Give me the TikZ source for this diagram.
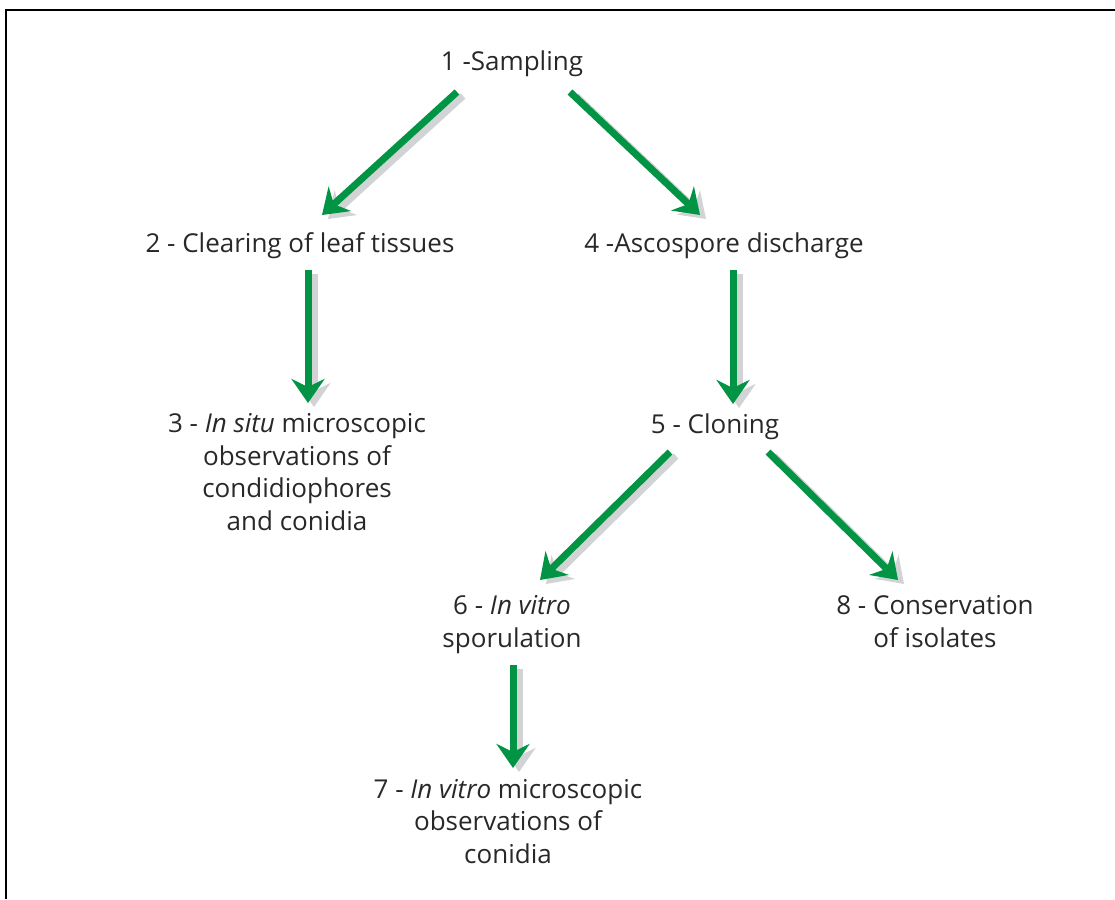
\documentclass[tikz,border=0pt]{standalone}
\usepackage{fontspec}
\setmainfont{Open Sans}
\usetikzlibrary{arrows.meta,calc}
\definecolor{arrgreen}{RGB}{0,148,68}
\definecolor{shadowgray}{RGB}{209,211,212}
\definecolor{txtgray}{RGB}{40,40,40}
\tikzset{
  lbl/.style={anchor=base,inner sep=0pt,align=center,font=\fontsize{26}{32.5}\selectfont,text=txtgray},
  arrbase/.style={line width=7pt,-{Stealth[length=24pt,width=33pt,inset=8pt]}},
  arr/.style={arrbase,draw=arrgreen,fill=arrgreen},
  arrshadow/.style={arrbase,draw=shadowgray,fill=shadowgray,transform canvas={shift={(6pt,-4pt)}}},
}
\newcommand{\flowarrow}[2]{%
  \draw[arrshadow] #1 -- #2;
  \draw[arr] #1 -- #2;}
\begin{document}
\begin{tikzpicture}[x=1pt,y=-1pt]
\useasboundingbox (0,0) rectangle (1115,899);
\draw[line width=2pt,black] (6,899) -- (6,10) -- (1115,10);

% multi-line nodes: base anchor = baseline of last line
\node[lbl] (n1) at (512,70.5) {1 -Sampling};
\node[lbl] (n2) at (300,252) {2 - Clearing of leaf tissues};
\node[lbl] (n4) at (724,252) {4 -Ascospore discharge};
\node[lbl] (n3) at (297,530) {3 - \textit{In situ} microscopic\\observations of\\condidiophores\\and conidia};
\node[lbl] (n5) at (715,433) {5 - Cloning};
\node[lbl] (n6) at (512,647) {6 - \textit{In vitro}\\sporulation};
\node[lbl] (n8) at (935,647) {8 - Conservation\\of isolates};
\node[lbl] (n7) at (508,863) {7 - \textit{In vitro} microscopic\\observations of\\conidia};

\flowarrow{($(n1.base)+(-55,21.5)$)}{($(n2.base)+(22,-37)$)}
\flowarrow{($(n1.base)+(58,21.5)$)}{($(n4.base)+(-24,-37)$)}
\flowarrow{($(n2.base)+(8,18)$)}{($(n3.base)+(11,-127)$)}
\flowarrow{($(n4.base)+(9,18)$)}{($(n5.base)+(18,-29)$)}
\flowarrow{($(n5.base)+(-45,19)$)}{($(n6.base)+(28,-67)$)}
\flowarrow{($(n5.base)+(53,19)$)}{($(n8.base)+(-37,-67)$)}
\flowarrow{($(n6.base)+(1,18)$)}{($(n7.base)+(5,-95)$)}
\end{tikzpicture}
\end{document}
